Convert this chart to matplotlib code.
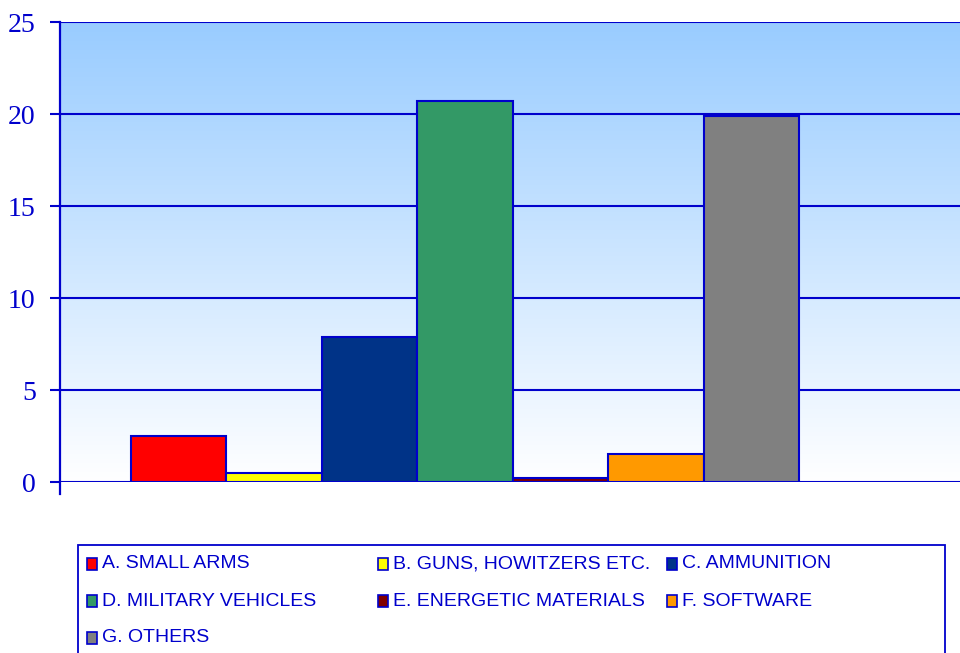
import numpy as np
import matplotlib
matplotlib.use("Agg")
import matplotlib.pyplot as plt
from matplotlib.patches import Rectangle
from matplotlib.lines import Line2D

series = ["A. SMALL ARMS", "B. GUNS, HOWITZERS ETC.", "C. AMMUNITION",
          "D. MILITARY VEHICLES", "E. ENERGETIC MATERIALS", "F. SOFTWARE",
          "G. OTHERS"]
values = [2.5, 0.5, 7.9, 20.7, 0.2, 1.5, 19.9]
colors = ["#FF0000", "#FFFF00", "#003387", "#339966", "#800000", "#FF9900", "#808080"]
yticks = [0, 5, 10, 15, 20, 25]

BLUE = "#0000CC"
W, H = 960, 653
fig = plt.figure(figsize=(W / 100, H / 100), dpi=100)
ax = fig.add_axes([60 / W, 1 - 482 / H, 900 / W, 460 / H])

# gradient background
grad = np.linspace(0, 1, 256).reshape(-1, 1)
top = np.array([153, 204, 255]) / 255
bot = np.array([255, 255, 255]) / 255
img = top[None, None, :] * (1 - grad[..., None]) + bot[None, None, :] * grad[..., None]
ax.imshow(img, extent=[0, 1, 0, 1], transform=ax.transAxes, aspect="auto", zorder=0)

x = np.arange(len(values))
ax.bar(x, values, width=1.0, color=colors, edgecolor=BLUE, linewidth=1.5, zorder=3)

ax.set_xlim(-1.244, 8.187)
ax.set_ylim(0, 25)
ax.set_yticks(yticks)
ax.set_yticklabels([str(t) for t in yticks], fontfamily="Liberation Serif",
                   fontsize=20, color=BLUE)
ax.set_xticks([])
ax.tick_params(axis="y", length=7.5, width=1.5, color=BLUE, pad=10, direction="out")
for s in ax.spines.values():
    s.set_visible(False)
ax.yaxis.grid(True, color=BLUE, linewidth=1.5, zorder=1)
ax.set_axisbelow(True)
ax.add_line(Line2D([0, 0], [-0.026, 1], transform=ax.transAxes, color=BLUE,
                   linewidth=1.6, clip_on=False, zorder=5))

# legend (manual, row-major layout)
fig.patches.append(Rectangle((78 / W, -0.05), (945 - 78) / W, 0.05 + 1 - 545 / H,
                             transform=fig.transFigure, facecolor="white",
                             edgecolor=BLUE, linewidth=1.3))
col_x = [92, 383, 672]
row_y = [564, 601, 638]
for i, (name, c) in enumerate(zip(series, colors)):
    r, k = divmod(i, 3)
    px, py = col_x[k], row_y[r]
    fig.patches.append(Rectangle(((px - 5) / W, 1 - (py + 6) / H), 10 / W, 12 / H,
                                 transform=fig.transFigure, facecolor=c,
                                 edgecolor=BLUE, linewidth=1.2))
    fig.text((px + 10) / W, 1 - py / H, name, fontfamily="Liberation Sans",
             fontsize=14, color=BLUE, va="center", ha="left")

fig.savefig("out.png", dpi=100)
